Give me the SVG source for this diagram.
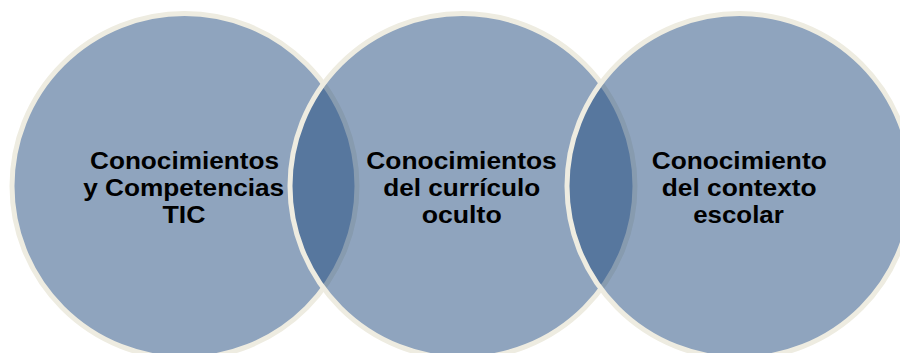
<svg xmlns="http://www.w3.org/2000/svg" width="900" height="353" viewBox="0 0 900 353">
  <style>
    .c { fill: #1F497D; fill-opacity: 0.5; stroke: #EEECE1; stroke-width: 5; }
    .t { font-family: "Liberation Sans", Arial, sans-serif; font-weight: bold; font-size: 23.5px; fill: #000; text-anchor: middle; }
  </style>
  <rect width="900" height="353" fill="#FFFFFF"/>
  <g id="connectors"></g>
  <g id="node1">
    <circle class="c" cx="184.5" cy="186" r="172.5"/>
  </g>
  <g id="node2">
    <circle class="c" cx="462.5" cy="186" r="172.5"/>
  </g>
  <g id="node3">
    <circle class="c" cx="739.5" cy="186" r="172.5"/>
  </g>
  <g id="label1">
    <text class="t" x="184.5" y="168.5" textLength="189" lengthAdjust="spacingAndGlyphs">Conocimientos</text>
    <text class="t" x="183.7" y="195.5" textLength="201" lengthAdjust="spacingAndGlyphs">y Competencias</text>
    <text class="t" x="184" y="222.5" textLength="43" lengthAdjust="spacingAndGlyphs">TIC</text>
  </g>
  <g id="label2">
    <text class="t" x="461.5" y="168.5" textLength="190.5" lengthAdjust="spacingAndGlyphs">Conocimientos</text>
    <text class="t" x="461.7" y="195.5" textLength="157" lengthAdjust="spacingAndGlyphs">del currículo</text>
    <text class="t" x="461.7" y="222.5" textLength="80" lengthAdjust="spacingAndGlyphs">oculto</text>
  </g>
  <g id="label3">
    <text class="t" x="739.2" y="168.5" textLength="175" lengthAdjust="spacingAndGlyphs">Conocimiento</text>
    <text class="t" x="739.2" y="195.5" textLength="155" lengthAdjust="spacingAndGlyphs">del contexto</text>
    <text class="t" x="738.5" y="222.5" textLength="90.5" lengthAdjust="spacingAndGlyphs">escolar</text>
  </g>
</svg>
